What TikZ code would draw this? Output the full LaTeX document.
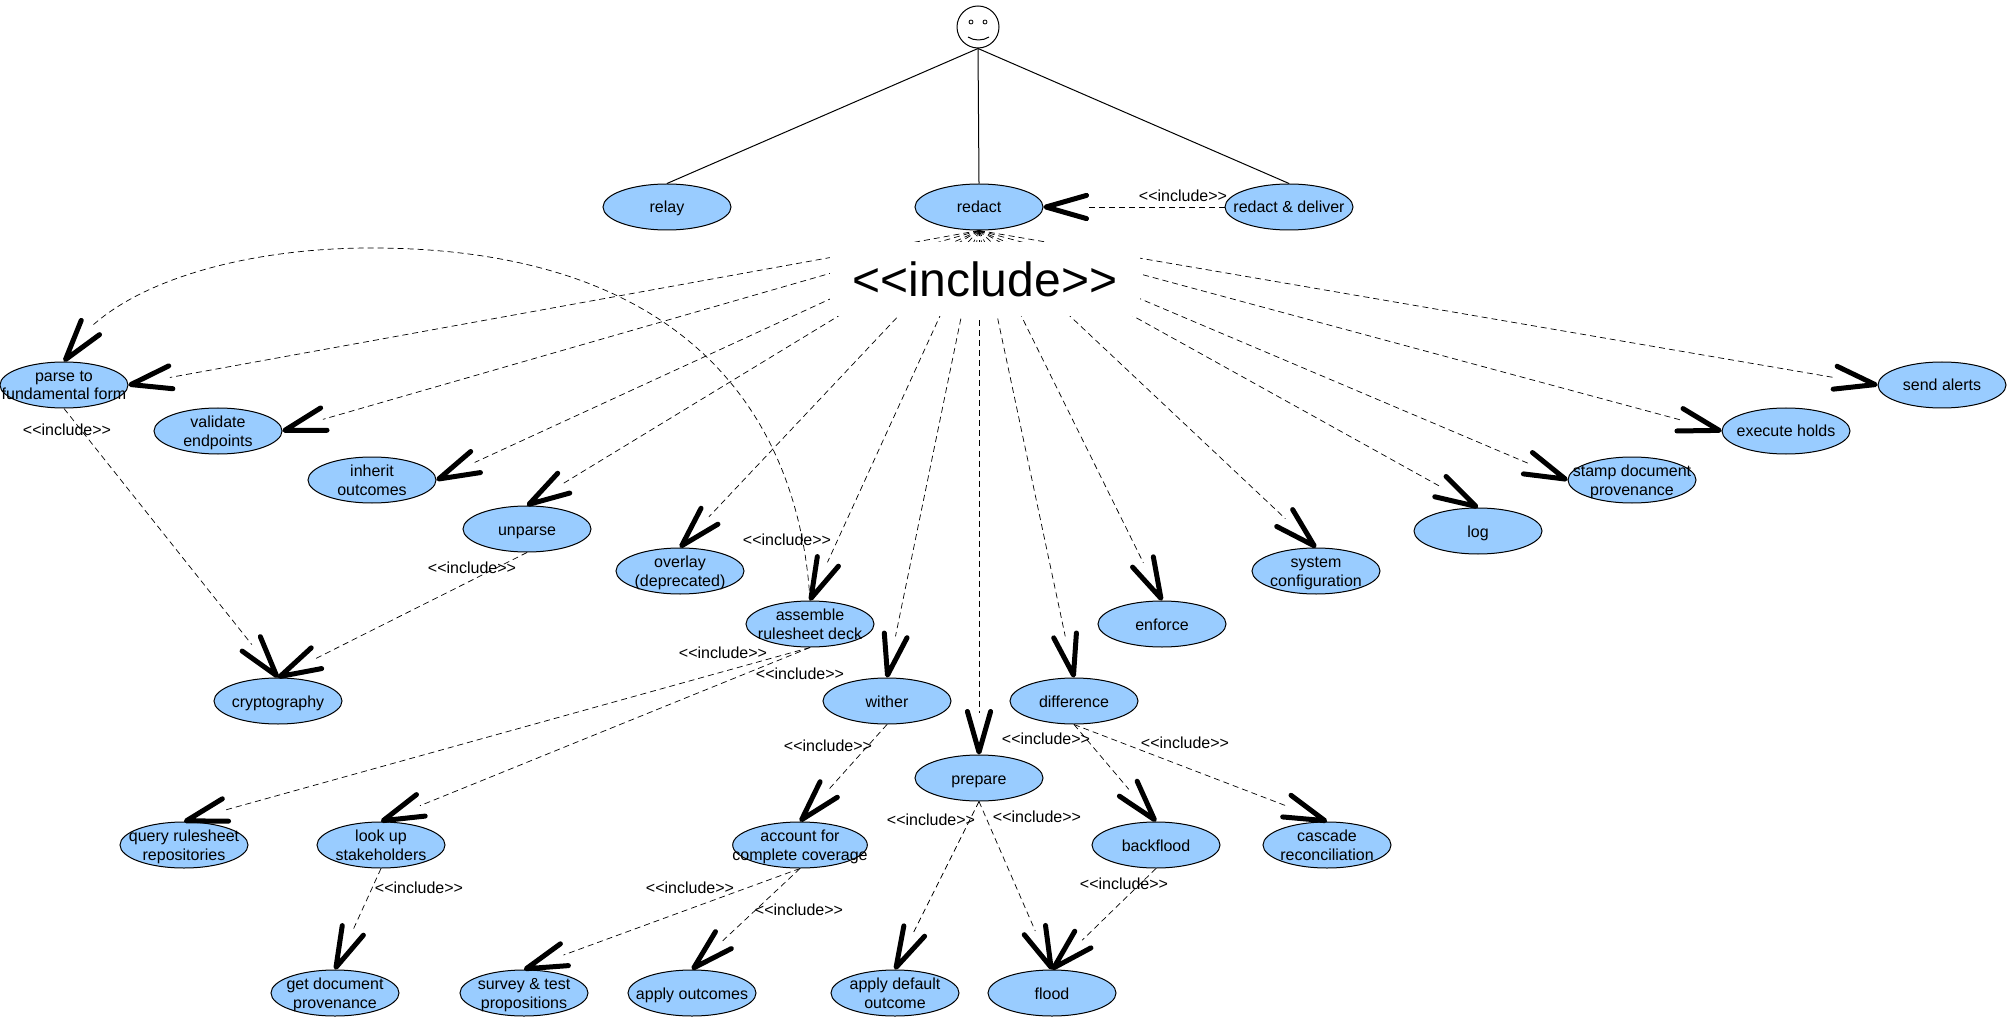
\documentclass[tikz,border=0pt]{standalone}
\usepackage{fontspec}
\setmainfont{Liberation Sans}
\usetikzlibrary{shapes.geometric,arrows.meta,bending}
\newcommand{\incl}{<\kern0pt<include>\kern0pt>}
\pgfdeclarearrow{
    name=OpenBarb,
    setup code={
        \pgfarrowssettipend{0pt}
        \pgfarrowssetlineend{-21pt}
        \pgfarrowssetvisualbackend{-21pt}
        \pgfarrowssetbackend{-23pt}
        \pgfarrowshullpoint{0pt}{0pt}
        \pgfarrowshullpoint{-23pt}{7pt}
        \pgfarrowshullpoint{-23pt}{-7pt}
    },
    drawing code={
        \pgfsetlinewidth{2.5pt}
        \pgfsetroundcap
        \pgfsetroundjoin
        \pgfsetdash{}{0pt}
        \pgfpathmoveto{\pgfqpoint{-21.5pt}{5.8pt}}
        \pgfpathlineto{\pgfqpoint{-1.2pt}{0pt}}
        \pgfpathlineto{\pgfqpoint{-21.5pt}{-5.8pt}}
        \pgfusepathqstroke
    },
}
\tikzset{
    usecase/.style={draw,ellipse,fill=ucblue,line width=0.5pt,minimum width=64pt,minimum height=23pt,
        inner xsep=-10pt,inner ysep=-2pt,align=center,text height=7pt,text depth=1pt,
        font=\fontsize{8}{9.2}\selectfont},
    usecase2/.style={usecase,text height=16pt,text depth=1pt},
    inclabel/.style={inner sep=0pt,font=\fontsize{8}{9}\selectfont},
    dep/.style={draw,dash pattern=on 3pt off 2pt,line width=0.35pt,-OpenBarb},
    assoc/.style={draw,line width=0.5pt},
}
\definecolor{ucblue}{HTML}{99CCFF}
\begin{document}
\begin{tikzpicture}[x=0.5pt,y=-0.5pt]
    \useasboundingbox (0,0) rectangle (2007,1021);
    % actor
    \node[draw,circle,inner sep=0pt,minimum size=21pt,line width=0.5pt] (actor) at (978,27) {};
    \draw[line width=0.4pt] (971,22) circle (2);
    \draw[line width=0.4pt] (985,22) circle (2);
    \draw[line width=0.5pt] (968,37) .. controls (974,41) and (983,41) .. (989,37);
    % top row
    \node[usecase] (relay) at (667,207) {relay};
    \node[usecase] (redact) at (979,207) {redact};
    \node[usecase] (deliver) at (1289,207) {redact \& deliver};
    % fan below redact
    \node[usecase2] (parse) at (64,385) {parse to\\fundamental form};
    \node[usecase2] (validate) at (218,431) {validate\\endpoints};
    \node[usecase2] (inherit) at (372,480) {inherit\\outcomes};
    \node[usecase] (unparse) at (527,529) {unparse};
    \node[usecase2] (overlay) at (680,571) {overlay\\(deprecated)};
    \node[usecase2] (assemble) at (810,624) {assemble\\rulesheet deck};
    \node[usecase] (wither) at (887,701) {wither};
    \node[usecase] (prepare) at (979,778) {prepare};
    \node[usecase] (difference) at (1074,701) {difference};
    \node[usecase] (enforce) at (1162,624) {enforce};
    \node[usecase2] (sysconf) at (1316,571) {system\\configuration};
    \node[usecase] (log) at (1478,531) {log};
    \node[usecase2] (stamp) at (1632,480) {stamp document\\provenance};
    \node[usecase] (holds) at (1786,431) {execute holds};
    \node[usecase] (alerts) at (1942,385) {send alerts};
    % lower levels
    \node[usecase] (crypto) at (278,701) {cryptography};
    \node[usecase2] (query) at (184,845) {query rulesheet\\repositories};
    \node[usecase2] (lookup) at (381,845) {look up\\stakeholders};
    \node[usecase2] (account) at (800,845) {account for\\complete coverage};
    \node[usecase] (backflood) at (1156,845) {backflood};
    \node[usecase2] (cascade) at (1327,845) {cascade\\reconciliation};
    \node[usecase2] (getdoc) at (335,993) {get document\\provenance};
    \node[usecase2] (survey) at (524,993) {survey \& test\\propositions};
    \node[usecase] (applyout) at (692,993) {apply outcomes};
    \node[usecase2] (applydef) at (895,993) {apply default\\outcome};
    \node[usecase] (flood) at (1052,993) {flood};

    \draw[assoc] (actor.south) -- (relay.north);
    \draw[assoc] (actor.south) -- (redact.north);
    \draw[assoc] (actor.south) -- (deliver.north);
    \draw[dep] (deliver.west) -- (redact.east);

    \foreach \target/\side in {parse/east,validate/east,inherit/east,unparse/north,overlay/north,
        assemble/north,wither/north,prepare/north,difference/north,enforce/north,sysconf/north,
        log/north,stamp/west,holds/west,alerts/west}
        \draw[dep] (redact.south) -- (\target.\side);
    \node[fill=white,inner sep=0pt,minimum width=155pt,minimum height=37pt,
        font=\fontsize{24}{26}\selectfont] (biglabel) at (985,279) {\incl};

    \draw[dep] (parse.south) -- (crypto.north);
    \draw[dep] (unparse.south) -- (crypto.north);
    \draw[dep] (assemble.north) .. controls (800,430) and (700,248) .. (371,248)
        .. controls (230,248) and (100,290) .. (parse.north);
    \draw[dep] (assemble.south) -- (query.north);
    \draw[dep] (assemble.south) -- (lookup.north);
    \draw[dep] (wither.south) -- (account.north);
    \draw[dep] (lookup.south) -- (getdoc.north);
    \draw[dep] (account.south) -- (survey.north);
    \draw[dep] (account.south) -- (applyout.north);
    \draw[dep] (prepare.south) -- (applydef.north);
    \draw[dep] (prepare.south) -- (flood.north);
    \draw[dep] (difference.south) -- (backflood.north);
    \draw[dep] (difference.south) -- (cascade.north);
    \draw[dep] (backflood.south) -- (flood.north);

    \node[inclabel] (lbldeliver) at (1183,196) {\incl};
    \node[inclabel] (lblparse) at (67,430) {\incl};
    \node[inclabel] (lblunparse) at (472,568) {\incl};
    \node[inclabel] (lblcurve) at (787,540) {\incl};
    \node[inclabel] (lblquery) at (723,653) {\incl};
    \node[inclabel] (lbllookup) at (800,674) {\incl};
    \node[inclabel] (lblwither) at (828,746) {\incl};
    \node[inclabel] (lblgetdoc) at (419,888) {\incl};
    \node[inclabel] (lblsurvey) at (690,888) {\incl};
    \node[inclabel] (lblapply) at (799,910) {\incl};
    \node[inclabel] (lbldefault) at (931,820) {\incl};
    \node[inclabel] (lblflood) at (1037,817) {\incl};
    \node[inclabel] (lblback) at (1046,739) {\incl};
    \node[inclabel] (lblcascade) at (1185,743) {\incl};
    \node[inclabel] (lblbackflood) at (1124,884) {\incl};
\end{tikzpicture}
\end{document}
